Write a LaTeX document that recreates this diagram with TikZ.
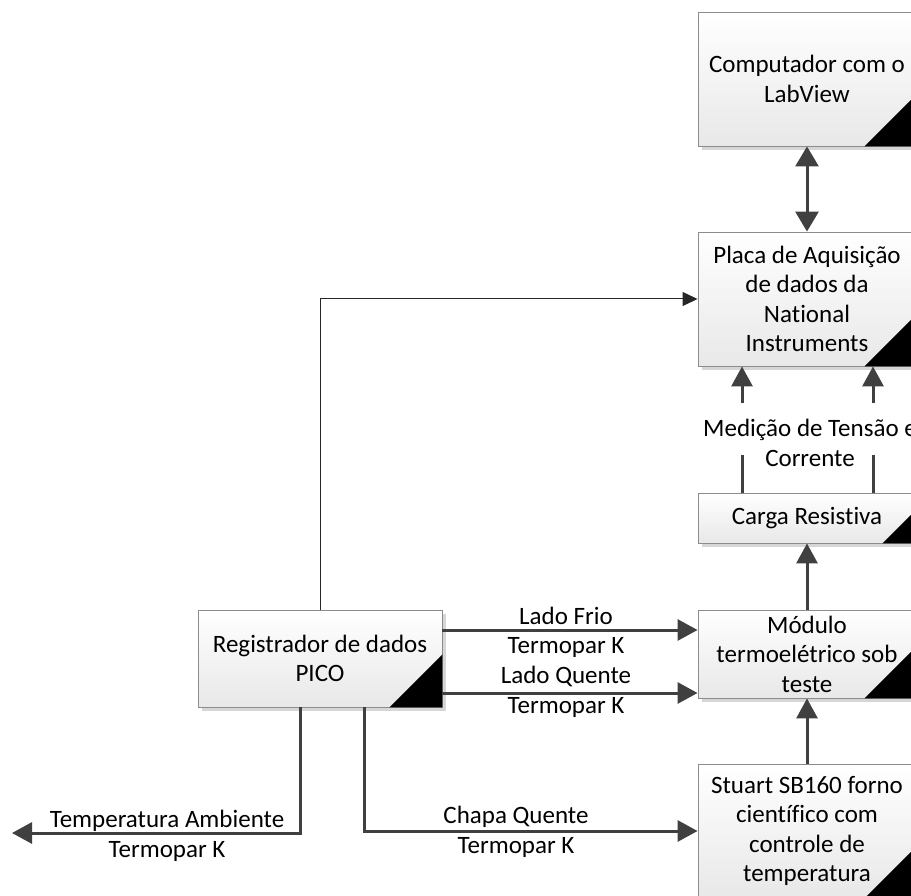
\documentclass[tikz,border=0pt]{standalone}
\usepackage{fontspec}
\setmainfont{Carlito}[Ligatures={NoCommon,NoContextual}]
\usetikzlibrary{arrows.meta,shadows}

\definecolor{linegray}{HTML}{404040}
\definecolor{framegray}{HTML}{8C8C8C}

\tikzset{
  blockbox/.style={draw=framegray, line width=0.9pt, top color=white, bottom color=black!9,
    align=center, inner sep=0pt, text=black,
    font=\fontsize{25}{29.5}\selectfont,
    drop shadow={shadow xshift=4pt, shadow yshift=-4pt, fill=black!16, opacity=1}},
  flowline/.style={draw=linegray, line width=3pt},
  flowarrow/.style={flowline, -{Triangle[length=20pt,width=21pt]}},
  biarrow/.style={flowline, {Triangle[length=20pt,width=23pt]}-{Triangle[length=20pt,width=23pt]}},
  thinarrow/.style={draw=black!85, line width=1pt, -{Triangle[length=15pt,width=14pt]}},
  edgelabel/.style={align=center, inner sep=0pt, font=\fontsize{25}{29.5}\selectfont}
}

\begin{document}
\begin{tikzpicture}[x=1pt, y=-1pt]
  \clip (0,0) rectangle (911,896);

  % blocks
  \node[blockbox, minimum width=218pt, minimum height=134pt] (comp) at (807,79)
    {Computador com o\\LabView};
  \node[blockbox, minimum width=218pt, minimum height=134pt] (placa) at (807,299)
    {Placa de Aquisição\\de dados da\\National\\Instruments};
  \node[blockbox, minimum width=218pt, minimum height=50pt] (carga) at (807,518)
    {Carga Resistiva};
  \node[blockbox, minimum width=218pt, minimum height=88pt] (modulo) at (807,654)
    {Módulo\\termoelétrico sob\\teste};
  \node[blockbox, minimum width=218pt, minimum height=134pt] (stuart) at (807,831)
    {Stuart SB160 forno\\científico com\\controle de\\temperatura};
  \node[blockbox, minimum width=244pt, minimum height=97pt] (pico) at (320,658.5)
    {Registrador de dados\\PICO};

  % corner marks
  \foreach \n/\s in {comp/52, placa/52, carga/34, modulo/52, stuart/52, pico/53}
    \fill[black] (\n.south east) -- ++(-\s,0) -- ++(\s,-\s) -- cycle;

  % guide coordinates
  \coordinate (yFrio) at (0,630);
  \coordinate (yQuente) at (0,693);
  \coordinate (tamb) at (12,833);
  \coordinate (mLlow) at (742,455);
  \coordinate (mLhigh) at (742,403);
  \coordinate (mRlow) at (873,455);
  \coordinate (mRhigh) at (873,403);

  % connectors
  \draw[biarrow] (comp.south) -- (placa.north);
  \draw[thinarrow] (pico.north) |- (placa.west);

  \draw[flowline] (carga.north -| mLlow) -- (mLlow);
  \draw[flowarrow] (mLhigh) -- (placa.south -| mLhigh);
  \draw[flowline] (carga.north -| mRlow) -- (mRlow);
  \draw[flowarrow] (mRhigh) -- (placa.south -| mRhigh);
  \node[edgelabel] (lblmed) at (810,443) {Medição de Tensão e\\Corrente};

  \draw[flowarrow] (modulo.north) -- (carga.south);
  \draw[flowarrow] (stuart.north) -- (modulo.south);

  \draw[flowarrow] (pico.east |- yFrio) -- (modulo.west |- yFrio);
  \node[edgelabel] (lblfrio) at (566,632.5) {Lado Frio\\Termopar K};
  \draw[flowarrow] (pico.east |- yQuente) -- (modulo.west |- yQuente);
  \node[edgelabel] (lblquente) at (566,692) {Lado Quente\\Termopar K};

  \draw[flowarrow] ([xshift=-20pt]pico.south) |- (tamb);
  \node[edgelabel] (lbltamb) at (167,836) {Temperatura Ambiente\\Termopar K};
  \draw[flowarrow] ([xshift=44pt]pico.south) |- (stuart.west);
  \node[edgelabel] (lblchapa) at (516,832) {Chapa Quente\\Termopar K};
\end{tikzpicture}
\end{document}
